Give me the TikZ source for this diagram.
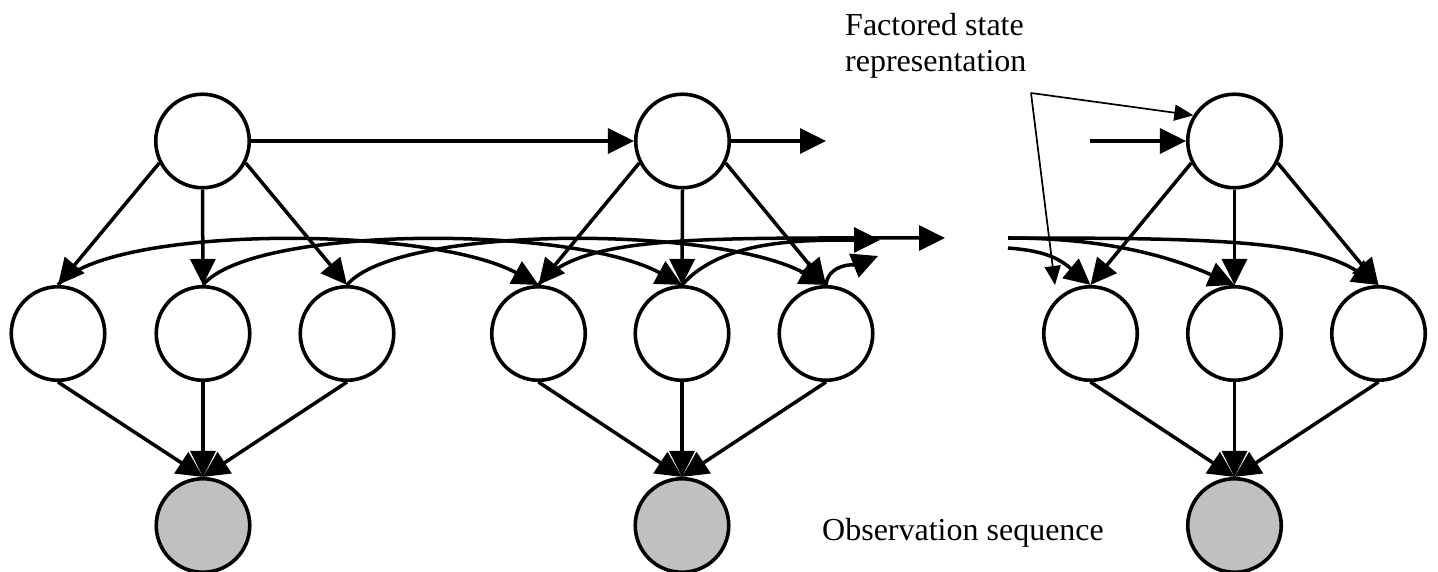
\documentclass[tikz,border=0pt]{standalone}
\usepackage{fontspec}
\setmainfont{Liberation Serif}
\usetikzlibrary{arrows.meta}
\definecolor{obsgray}{RGB}{192,192,192}
\begin{document}
\begin{tikzpicture}[x=1pt,y=-1pt,
  hid/.style={circle, draw, line width=3.6pt, minimum size=93.5pt, inner sep=0pt, fill=white},
  obs/.style={hid, fill=obsgray},
  link/.style={line width=3.5pt, -{Triangle[length=26pt,width=25pt]}},
  pointer/.style={line width=1.7pt, -{Triangle[length=19pt,width=16pt]}},
  lbl/.style={font=\fontsize{32}{36}\selectfont, inner sep=0pt, anchor=base west}
]
\useasboundingbox (0,0) rectangle (1438,572);

% top-level state nodes
\node[hid] (T1) at (202.5,141) {};
\node[hid] (T2) at (682.5,141) {};
\node[hid] (T3) at (1234.5,141) {};

% factored state variables
\node[hid] (M1) at (58,333.5) {};
\node[hid] (M2) at (203,333.5) {};
\node[hid] (M3) at (347,333.5) {};
\node[hid] (M4) at (538.5,333.5) {};
\node[hid] (M5) at (682,333.5) {};
\node[hid] (M6) at (826,333.5) {};
\node[hid] (M7) at (1090.5,333.5) {};
\node[hid] (M8) at (1234.5,333.5) {};
\node[hid] (M9) at (1378.5,333.5) {};

% observations
\node[obs] (B1) at (203,525.5) {};
\node[obs] (B2) at (682,525.5) {};
\node[obs] (B3) at (1234.5,525.5) {};

% free ends of the open connectors
\coordinate (t2out) at (826,141);
\coordinate (t3in) at (1090,141);
\coordinate (out4) at (945,238);
\coordinate (out5) at (880,240);
\coordinate (out6) at (878,256);
\coordinate (in7) at (1008,248);
\coordinate (in8) at (1008,238);
\coordinate (in9) at (1008,238);
\coordinate (fsv) at (1031,93);
\coordinate (fsm) at (1055,285);

% labels
\node[lbl] (fs1) at (845,36) {Factored state};
\node[lbl] (fs2) at (845,72) {representation};
\node[lbl] (os) at (822,540) {Observation sequence};

% transitions between top-level states
\draw[link] (T1.east) -- (T2.west);
\draw[link] (T2.east) -- (t2out);
\draw[link] (t3in) -- (T3.west);

% top-level state to factored variables
\draw[link] (T1.207) -- (M1.north);
\draw[link] (T1.south) -- (M2.north);
\draw[link] (T1.333) -- (M3.north);
\draw[link] (T2.207) -- (M4.north);
\draw[link] (T2.south) -- (M5.north);
\draw[link] (T2.333) -- (M6.north);
\draw[link] (T3.207) -- (M7.north);
\draw[link] (T3.south) -- (M8.north);
\draw[link] (T3.333) -- (M9.north);

% factored variables to observations
\draw[link] (M1.south) -- (B1.north);
\draw[link] (M2.south) -- (B1.north);
\draw[link] (M3.south) -- (B1.north);
\draw[link] (M4.south) -- (B2.north);
\draw[link] (M5.south) -- (B2.north);
\draw[link] (M6.south) -- (B2.north);
\draw[link] (M7.south) -- (B3.north);
\draw[link] (M8.south) -- (B3.north);
\draw[link] (M9.south) -- (B3.north);

% transitions of each factored variable
\draw[link] (M1.north) .. controls +(50,-60) and +(-110,-60) .. (M4.north);
\draw[link] (M2.north) .. controls +(50,-60) and +(-110,-60) .. (M5.north);
\draw[link] (M3.north) .. controls +(50,-60) and +(-110,-60) .. (M6.north);
\draw[link] (M4.north) .. controls +(40,-50) and +(-250,0) .. (out4);
\draw[link] (M5.north) .. controls +(40,-45) and +(-80,0) .. (out5);
\draw[link] (M6.north) .. controls +(2,-22) and +(-20,8) .. (out6);
\draw[link] (in7) .. controls +(40,3) and +(-30,-25) .. (M7.north);
\draw[link] (in8) .. controls +(80,0) and +(-80,-35) .. (M8.north);
\draw[link] (in9) .. controls +(200,0) and +(-70,-45) .. (M9.north);

% pointers from the label
\draw[pointer] (fsv) -- (T3.148);
\draw[pointer] (fsv) -- (fsm);
\end{tikzpicture}
\end{document}
